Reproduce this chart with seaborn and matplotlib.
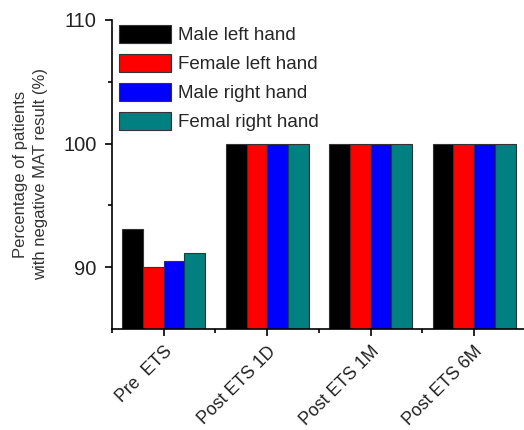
import pandas as pd
import seaborn as sns
import matplotlib.pyplot as plt
from matplotlib.ticker import FixedLocator

# Datos
categorias = ["Pre  ETS", "Post ETS 1D", "Post ETS 1M", "Post ETS 6M"]
grupos = ["Male left hand", "Female left hand", "Male right hand", "Femal right hand"]
male_left = [93.13, 100, 100, 100]
female_left = [90.0, 100, 100, 100]
male_right = [90.49, 100, 100, 100]
female_right = [91.16, 100, 100, 100]
colores = ["#000000", "#ff0000", "#0000ff", "#008080"]

valores = [male_left, female_left, male_right, female_right]
filas = []
for g, vals in zip(grupos, valores):
    for c, v in zip(categorias, vals):
        filas.append({"Momento": c, "Grupo": g, "Porcentaje": v})
data = pd.DataFrame(filas)

sns.set_style("ticks")
plt.rcParams['font.family'] = ['Liberation Sans', 'DejaVu Sans']

fig = plt.figure(figsize=(5.24, 4.30), dpi=100)
ax = fig.add_axes([0.2137, 0.2349, 0.79, 0.7186])

sns.barplot(data=data, x="Momento", y="Porcentaje", hue="Grupo",
            palette=colores, width=0.8, edgecolor="#333333", linewidth=0.8,
            saturation=1, ax=ax)

ax.set_ylim(85, 110)
ax.set_xlim(-0.5, 3.5)
ax.yaxis.set_major_locator(FixedLocator([90, 100, 110]))
ax.yaxis.set_minor_locator(FixedLocator([95, 105]))
ax.xaxis.set_minor_locator(FixedLocator([-0.5, 0.5, 1.5, 2.5]))
ax.tick_params(axis="both", which="major", direction="out", length=5, width=1.2,
               color="black", labelcolor="#222222", pad=5)
ax.tick_params(axis="both", which="minor", direction="out", length=3, width=1.2,
               color="black")
ax.tick_params(axis="y", labelsize=14.5, pad=6)
ax.tick_params(axis="x", labelsize=12.8)
plt.setp(ax.get_xticklabels(), rotation=45, ha="right", rotation_mode="anchor")

for lado in ["top", "right"]:
    ax.spines[lado].set_visible(False)
for lado in ["left", "bottom"]:
    ax.spines[lado].set_linewidth(1.2)
    ax.spines[lado].set_color("black")

ax.set_xlabel("")
ax.set_ylabel("Percentage of patients\nwith negative MAT result (%)", fontsize=12,
              color="#333333", labelpad=11, linespacing=1.4)

ax.legend(loc="upper left", bbox_to_anchor=(-0.005, 1.015), frameon=False, fontsize=13.5,
          handlelength=2.77, handleheight=1.15, labelspacing=0.5, handletextpad=0.37,
          borderaxespad=0.1)

plt.savefig("out.png", dpi=100)
